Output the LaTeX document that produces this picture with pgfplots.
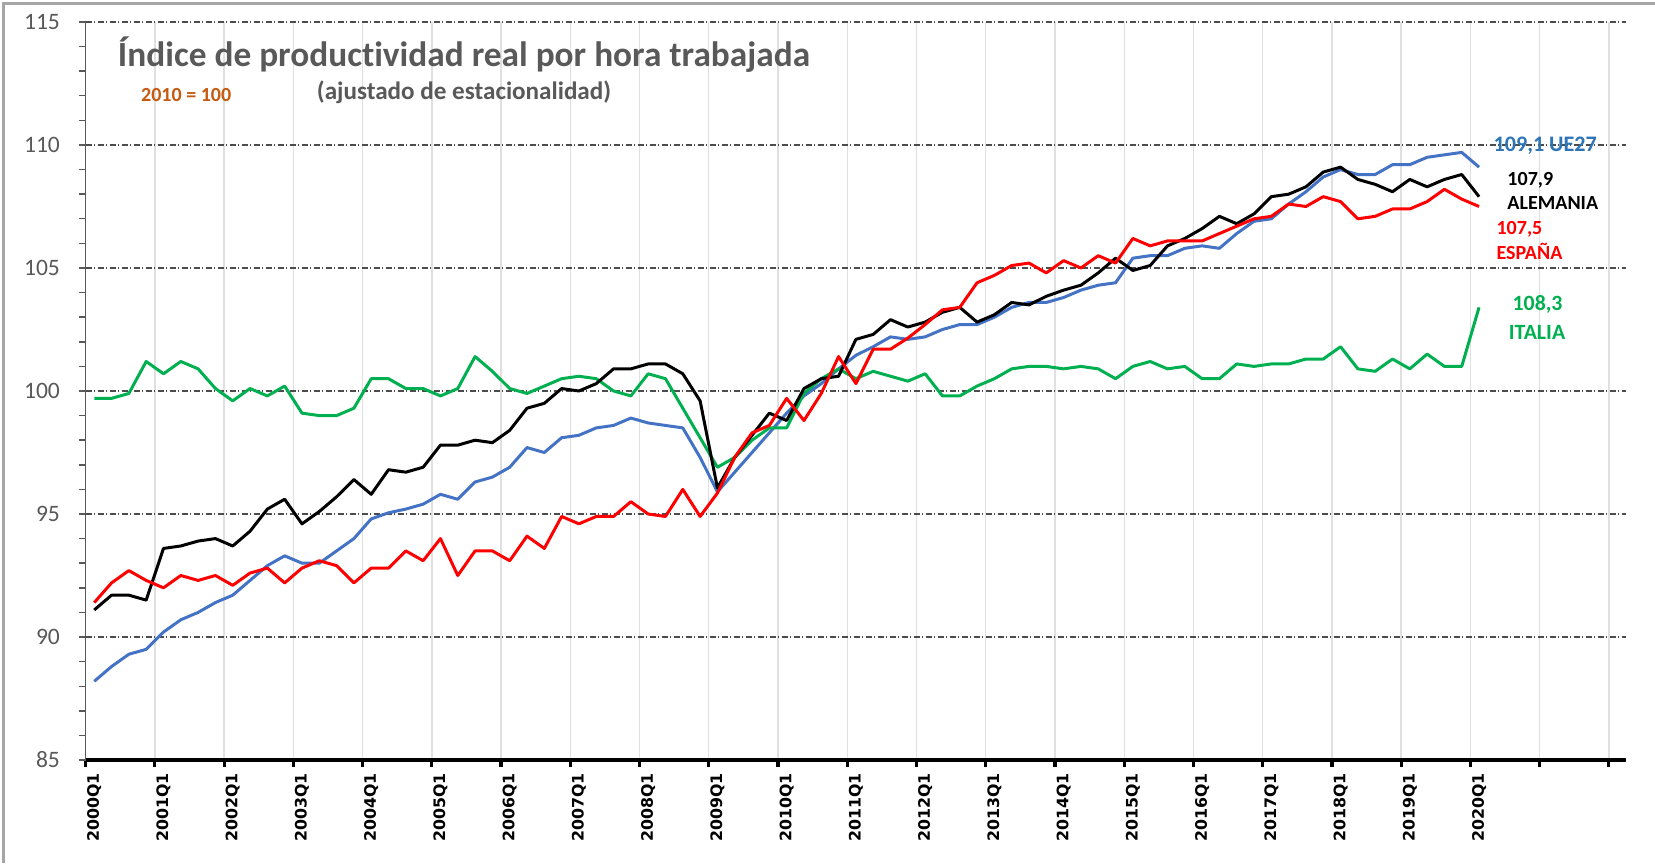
\documentclass[border=0pt]{standalone}
\usepackage{fontspec}
\setmainfont{Carlito}[Ligatures={NoCommon}]
\newfontfamily\xfont{DejaVu Sans}
\usepackage{pgfplots}
\pgfplotsset{compat=1.18}
\usepackage{pgfplotstable}
\definecolor{ueblue}{HTML}{4472C4}
\definecolor{uetext}{HTML}{2E75B6}
\definecolor{itgreen}{HTML}{00B050}
\definecolor{esred}{HTML}{FF0000}
\definecolor{titgray}{HTML}{595959}
\definecolor{orng}{HTML}{C55A11}

\pgfplotstableread{
i ue de es it
0 88.2 91.1 91.4 99.7
1 88.8 91.7 92.2 99.7
2 89.3 91.7 92.7 99.9
3 89.5 91.5 92.3 101.2
4 90.2 93.6 92.0 100.7
5 90.7 93.7 92.5 101.2
6 91.0 93.9 92.3 100.9
7 91.4 94.0 92.5 100.1
8 91.7 93.7 92.1 99.6
9 92.3 94.3 92.6 100.1
10 92.9 95.2 92.8 99.8
11 93.3 95.6 92.2 100.2
12 93.0 94.6 92.8 99.1
13 93.0 95.1 93.1 99.0
14 93.5 95.7 92.9 99.0
15 94.0 96.4 92.2 99.3
16 94.8 95.8 92.8 100.5
17 95.05 96.8 92.8 100.5
18 95.2 96.7 93.5 100.1
19 95.4 96.9 93.1 100.1
20 95.8 97.8 94.0 99.8
21 95.6 97.8 92.5 100.1
22 96.3 98.0 93.5 101.4
23 96.5 97.9 93.5 100.8
24 96.9 98.4 93.1 100.1
25 97.7 99.3 94.1 99.9
26 97.5 99.5 93.6 100.2
27 98.1 100.1 94.9 100.5
28 98.2 100.0 94.6 100.6
29 98.5 100.3 94.9 100.5
30 98.6 100.9 94.9 100.0
31 98.9 100.9 95.5 99.8
32 98.7 101.1 95.0 100.7
33 98.6 101.1 94.9 100.5
34 98.5 100.7 96.0 99.3
35 97.3 99.6 94.9 98.1
36 95.9 96.06 95.85 96.9
37 96.7 97.3 97.3 97.3
38 97.5 98.2 98.3 98.0
39 98.3 99.1 98.6 98.5
40 99.1 98.8 99.7 98.5
41 99.8 100.1 98.8 99.9
42 100.3 100.5 99.9 100.5
43 100.9 100.6 101.4 100.9
44 101.45 102.1 100.3 100.5
45 101.8 102.3 101.7 100.8
46 102.2 102.9 101.7 100.6
47 102.1 102.6 102.15 100.4
48 102.2 102.8 102.7 100.7
49 102.5 103.2 103.3 99.8
50 102.7 103.4 103.4 99.8
51 102.7 102.8 104.4 100.2
52 103.0 103.1 104.7 100.5
53 103.4 103.6 105.1 100.9
54 103.6 103.5 105.2 101.0
55 103.6 103.85 104.8 101.0
56 103.8 104.1 105.3 100.9
57 104.1 104.3 105.0 101.0
58 104.3 104.8 105.5 100.9
59 104.4 105.4 105.2 100.5
60 105.4 104.9 106.2 101.0
61 105.5 105.1 105.9 101.2
62 105.5 105.9 106.1 100.9
63 105.8 106.2 106.1 101.0
64 105.9 106.6 106.1 100.5
65 105.8 107.1 106.4 100.5
66 106.4 106.8 106.7 101.1
67 106.9 107.2 107.0 101.0
68 107.0 107.9 107.1 101.1
69 107.6 108.0 107.6 101.1
70 108.1 108.3 107.5 101.3
71 108.7 108.9 107.9 101.3
72 109.0 109.1 107.7 101.8
73 108.8 108.6 107.0 100.9
74 108.8 108.4 107.1 100.8
75 109.2 108.1 107.4 101.3
76 109.2 108.6 107.4 100.9
77 109.5 108.3 107.7 101.5
78 109.6 108.6 108.2 101.0
79 109.7 108.8 107.8 101.0
80 109.1 107.9 107.5 103.4
}\data

\begin{document}
\begin{tikzpicture}
\useasboundingbox (-8.56mm,-10.3mm) rectangle (156.94mm,76.0mm);
\fill[white] (-8.56mm,-10.3mm) rectangle (156.94mm,76.0mm);
\draw[gray!70, line width=0.7pt] (-8.2mm,-10.3mm) -- (-8.2mm,75.65mm) -- (156.94mm,75.65mm);
\begin{axis}[
  at={(0,0)}, anchor=south west,
  scale only axis, width=154.06mm, height=73.8mm,
  xmin=-0.5, xmax=88.5, ymin=85, ymax=115,
  axis x line*=bottom, axis y line*=left,
  x axis line style={line width=0.9pt, black, -},
  y axis line style={line width=0.5pt, titgray, -},
  tick align=outside,
  major tick length=0.7mm, minor tick length=0.7mm,
  xtick={-0.5,3.5,...,87.5},
  xticklabels={},
  xmajorgrids,
  x grid style={black!12, line width=0.4pt},
  xtick style={black, line width=0.9pt},
  extra x ticks={0,4,...,80},
  extra x tick labels={2000Q1,2001Q1,2002Q1,2003Q1,2004Q1,2005Q1,2006Q1,2007Q1,2008Q1,2009Q1,2010Q1,2011Q1,2012Q1,2013Q1,2014Q1,2015Q1,2016Q1,2017Q1,2018Q1,2019Q1,2020Q1},
  extra x tick style={major tick length=0pt, grid=none},
  xticklabel style={rotate=90, anchor=east, inner sep=0pt, font=\xfont\bfseries\fontsize{4.5}{5}\selectfont},
  xticklabel shift=1.26mm,
  ytick={85,90,...,115},
  minor y tick num=4,
  ymajorgrids,
  y grid style={dash pattern=on 0.6mm off 0.25mm on 0.1mm off 0.25mm, black!70, line width=0.35pt},
  ytick style={titgray, line width=0.4pt},
  yticklabel style={font=\fontsize{6.7}{7}\selectfont, text=titgray, inner sep=0pt},
  yticklabel shift=1.8mm,
  /pgf/number format/assume math mode=true,
  clip=false,
]
\addplot[ueblue, line width=0.85pt, line join=round] table[x=i,y=ue]{\data};
\addplot[itgreen, line width=0.85pt, line join=round] table[x=i,y=it]{\data};
\addplot[black, line width=0.85pt, line join=round] table[x=i,y=de]{\data};
\addplot[esred, line width=0.85pt, line join=round] table[x=i,y=es]{\data};

\node[font=\bfseries\fontsize{10.05}{12}\selectfont, text=titgray] at (axis cs:21.36,113.66) {Índice de productividad real por hora trabajada};
\node[font=\bfseries\fontsize{7.15}{8}\selectfont, text=titgray] at (axis cs:21.36,112.13) {(ajustado de estacionalidad)};
\node[font=\bfseries\fontsize{5.7}{7}\selectfont, text=orng] at (axis cs:5.31,112.03) {2010 = 100};

\node[anchor=west, inner sep=0pt, font=\bfseries\fontsize{6.3}{7}\selectfont, text=uetext] at (axis cs:80.8,109.96) {109,1 UE27};
\node[anchor=west, inner sep=0pt, font=\bfseries\fontsize{5.7}{7}\selectfont, text=black] at (axis cs:81.6,108.58) {107,9};
\node[anchor=west, inner sep=0pt, font=\bfseries\fontsize{5.7}{7}\selectfont, text=black] at (axis cs:81.6,107.65) {ALEMANIA};
\node[anchor=west, inner sep=0pt, font=\bfseries\fontsize{5.7}{7}\selectfont, text=esred] at (axis cs:80.97,106.59) {107,5};
\node[anchor=west, inner sep=0pt, font=\bfseries\fontsize{5.7}{7}\selectfont, text=esred] at (axis cs:80.97,105.66) {ESPAÑA};
\node[inner sep=0pt, font=\bfseries\fontsize{6.2}{7}\selectfont, text=itgreen] at (axis cs:83.38,103.50) {108,3};
\node[inner sep=0pt, font=\bfseries\fontsize{6.2}{7}\selectfont, text=itgreen] at (axis cs:83.35,102.40) {ITALIA};
\end{axis}
\end{tikzpicture}
\end{document}
